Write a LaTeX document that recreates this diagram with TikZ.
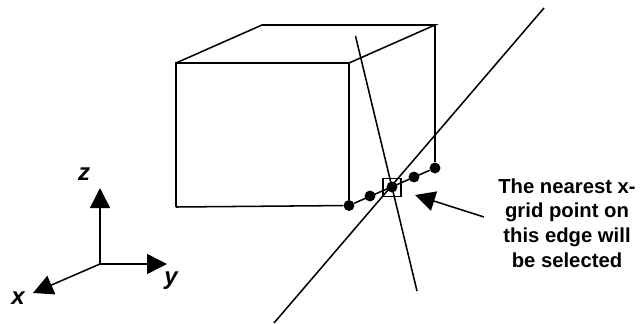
\documentclass[tikz,border=0pt]{standalone}
\usepackage{fontspec}
\setmainfont{Liberation Sans}
\usetikzlibrary{
	arrows.meta,
	calc,
	positioning
}
\tikzset{
	edge/.style={line width=1.15pt},
	axis/.style={line width=1.15pt,-{Triangle[length=15pt,width=15pt]}},
	griddot/.style={circle,fill=black,inner sep=0pt,minimum size=8.2pt},
	axislabel/.style={font=\fontsize{18}{18}\selectfont\bfseries\itshape,inner sep=0pt}
}

\begin{document}
\begin{tikzpicture}[x=0.75pt,y=-0.75pt]
	\useasboundingbox (0,0) rectangle (641,324);
	\coordinate (FTL) at (176,63);
	\coordinate (FTR) at (349,63);
	\coordinate (BTL) at (262,25);
	\coordinate (BTR) at (435,25);
	\coordinate (FBL) at (176,207);
	\coordinate (O) at (100,264);
	\coordinate (Xtip) at (33,293);
	\coordinate (Ytip) at (167,264);
	\coordinate (Ztip) at (100,188);

	% cube
	\draw[edge] (FBL) -- (FTL) -- (FTR) -- (BTR) -- (BTL) -- (FTL);

	% grid points on the edge
	\node[griddot] (P1) at (349,205.5) {};
	\node[griddot] (P2) at (370,196) {};
	\node[griddot] (P3) at (392,187) {};
	\node[griddot] (P4) at (414,177) {};
	\node[griddot] (P5) at (435,168) {};
	\draw[edge] (FTR) -- (P1);
	\draw[edge] (BTR) -- (P5);
	\draw[edge] (FBL) -- (P1) -- (P5);
	\node[draw,line width=1.15pt,minimum size=13.5pt,inner sep=0pt] (Sel) at (392,187.5) {};

	% lines through the point
	\coordinate (L1a) at (355.5,36);
	\coordinate (L1b) at (417,291);
	\coordinate (L2a) at (544,8);
	\coordinate (L2b) at (274,323);
	\draw[edge] (L1a) -- (L1b);
	\draw[edge] (L2a) -- (L2b);

	% axes
	\draw[axis] (O) -- (Ztip);
	\draw[axis] (O) -- (Ytip);
	\draw[axis] (O) -- (Xtip);
	\node[axislabel] (zlabel) at (84,174) {z};
	\node[axislabel] (ylabel) at (171,281) {y};
	\node[axislabel] (xlabel) at (18,298) {x};

	% callout
	\node[align=center,font=\fontsize{15.2}{18.6}\selectfont\bfseries,inner sep=0pt] (Note) at (567,223) {The nearest x-\\grid point on\\this edge will\\be selected};
	\coordinate (Atail) at (484,217);
	\coordinate (Atip) at (415,195);
	\draw[axis] (Atail) -- (Atip);
\end{tikzpicture}
\end{document}
